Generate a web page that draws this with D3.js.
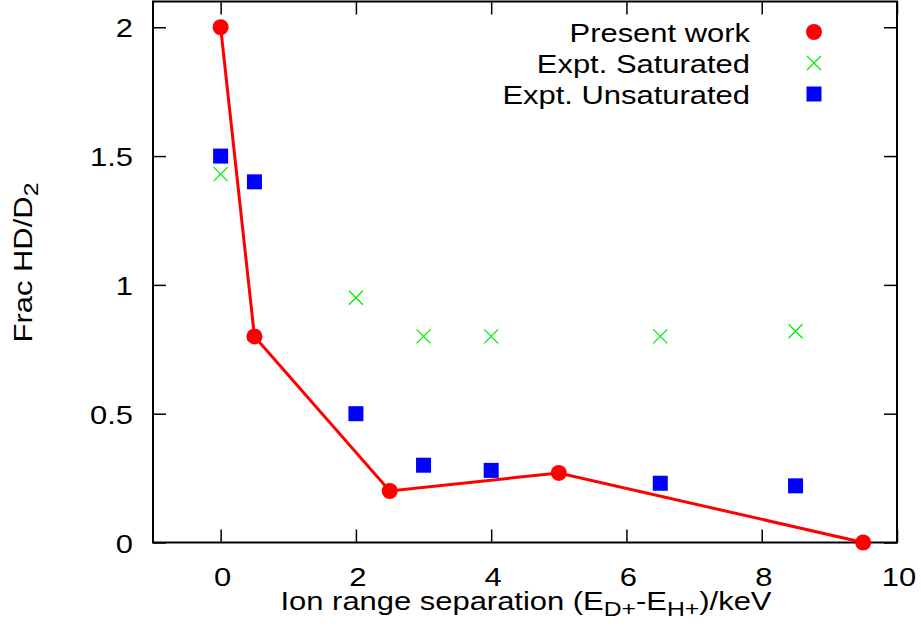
<!DOCTYPE html>
<html><head><meta charset="utf-8">
<script src="https://cdn.jsdelivr.net/npm/d3@7"></script>
<style>body{margin:0;background:#fff}svg{display:block}text{font-family:"Liberation Sans",Arial,Helvetica,sans-serif;fill:#000}</style>
</head><body>
<script>
const presentX = [0, 0.5, 2.5, 5, 9.5];
const presentY = [2, 0.8, 0.2, 0.27, 0];
const satX = [0, 2, 3, 4, 6.5, 8.5];
const satY = [1.43, 0.95, 0.8, 0.8, 0.8, 0.82];
const unsatX = [0, 0.5, 2, 3, 4, 6.5, 8.5];
const unsatY = [1.5, 1.4, 0.5, 0.3, 0.28, 0.23, 0.22];
const xTicks = [0, 2, 4, 6, 8, 10];
const xTickLabels = ["0", "2", "4", "6", "8", "10"];
const yTicks = [0, 0.5, 1, 1.5, 2];
const yTickLabels = ["0", "0.5", "1", "1.5", "2"];
const legendLabels = ["Present work", "Expt. Saturated", "Expt. Unsaturated"];

const W = 921, H = 641;
const L = 153, R = 897, T = 1.5, B = 542.5;
const FS = 26, SX = 1.19, TL = 13;

const svg = d3.select("body").append("svg").attr("width", W).attr("height", H);
const x = d3.scaleLinear().domain([-1, 10]).range([L, R]);
const y = d3.scaleLinear().domain([0, 2.1]).range([B, T]);

// ticks on all four sides (inward)
const xAxisB = d3.axisBottom(x).tickValues(xTicks).tickSize(-TL).tickFormat("");
const xAxisT = d3.axisTop(x).tickValues(xTicks).tickSize(-TL).tickFormat("");
const yAxisL = d3.axisLeft(y).tickValues(yTicks).tickSize(-TL).tickFormat("");
const yAxisR = d3.axisRight(y).tickValues(yTicks).tickSize(-TL).tickFormat("");
[[xAxisB, `translate(0,${B})`], [xAxisT, `translate(0,${T})`], [yAxisL, `translate(${L},0)`], [yAxisR, `translate(${R},0)`]].forEach(([ax, tr]) => {
  const g = svg.append("g").attr("transform", tr).call(ax);
  g.select(".domain").remove();
  g.selectAll("line").attr("stroke", "#000").attr("stroke-width", 1.5);
});
svg.append("rect").attr("x", L).attr("y", T).attr("width", R - L).attr("height", B - T)
  .attr("fill", "none").attr("stroke", "#000").attr("stroke-width", 2);

// tick labels
svg.append("g").selectAll("text").data(xTicks).join("text")
  .attr("transform", d => `translate(${x(d) + 2},586) scale(${SX},1)`)
  .attr("text-anchor", "middle").attr("font-size", FS)
  .text((d, i) => xTickLabels[i]);
svg.append("g").selectAll("text").data(yTicks).join("text")
  .attr("transform", d => `translate(133,${y(d) + 10}) scale(${SX},1)`)
  .attr("text-anchor", "end").attr("font-size", FS)
  .text((d, i) => yTickLabels[i]);

// axis labels
const xl = svg.append("text").attr("transform", `translate(526,610) scale(${SX},1)`)
  .attr("text-anchor", "middle").attr("font-size", FS);
xl.append("tspan").text("Ion range separation (E");
xl.append("tspan").attr("dy", 6).attr("font-size", FS * 0.8).text("D+");
xl.append("tspan").attr("dy", -6).text("-E");
xl.append("tspan").attr("dy", 6).attr("font-size", FS * 0.8).text("H+");
xl.append("tspan").attr("dy", -6).text(")/keV");

const yl = svg.append("text").attr("transform", `translate(32,262.5) rotate(-90) scale(${SX},1)`)
  .attr("text-anchor", "middle").attr("font-size", FS);
yl.append("tspan").text("Frac HD/D");
yl.append("tspan").attr("dy", 6).attr("font-size", FS * 0.8).text("2");

// present work line and points
const present = presentX.map((v, i) => [v, presentY[i]]);
svg.append("path").datum(present)
  .attr("d", d3.line().x(d => x(d[0])).y(d => y(d[1])))
  .attr("fill", "none").attr("stroke", "#ff0000").attr("stroke-width", 3);
svg.append("g").selectAll("circle").data(present).join("circle")
  .attr("cx", d => x(d[0])).attr("cy", d => y(d[1])).attr("r", 8).attr("fill", "#ff0000");

// saturated crosses
const crossPath = (cx, cy, s) => `M${cx - s},${cy - s}L${cx + s},${cy + s}M${cx - s},${cy + s}L${cx + s},${cy - s}`;
svg.append("g").selectAll("path").data(satX.map((v, i) => [v, satY[i]])).join("path")
  .attr("d", d => crossPath(x(d[0]), y(d[1]), 7))
  .attr("stroke", "#00ee00").attr("stroke-width", 1.3).attr("fill", "none");

// unsaturated squares
svg.append("g").selectAll("rect").data(unsatX.map((v, i) => [v, unsatY[i]])).join("rect")
  .attr("x", d => x(d[0]) - 7.5).attr("y", d => y(d[1]) - 7.5)
  .attr("width", 15).attr("height", 15).attr("fill", "#0000ff");

// legend
const lg = svg.append("g");
const rowY = [41.5, 72.5, 103.5];
legendLabels.forEach((t, i) => {
  lg.append("text").attr("transform", `translate(750,${rowY[i]}) scale(${SX},1)`)
    .attr("text-anchor", "end").attr("font-size", FS).text(t);
});
const mx = 814, my = rowY.map(v => v - 9.5);
lg.append("circle").attr("cx", mx).attr("cy", my[0]).attr("r", 8).attr("fill", "#ff0000");
lg.append("path").attr("d", crossPath(mx, my[1], 7)).attr("stroke", "#00ee00").attr("stroke-width", 1.3).attr("fill", "none");
lg.append("rect").attr("x", mx - 7.5).attr("y", my[2] - 7.5).attr("width", 15).attr("height", 15).attr("fill", "#0000ff");
</script>
</body></html>
